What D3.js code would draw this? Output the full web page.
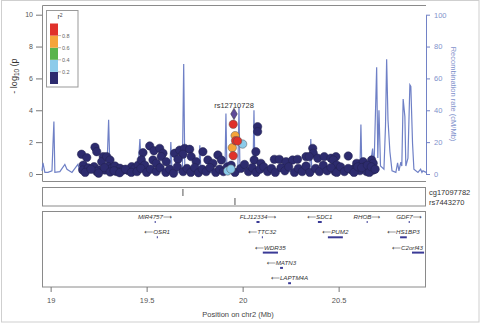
<!DOCTYPE html>
<html>
<head>
<meta charset="utf-8">
<script src="https://cdn.jsdelivr.net/npm/d3@7"></script>
<style>
  body { margin: 0; background: #fff; }
  text { font-family: "Liberation Sans", Arial, sans-serif; }
</style>
</head>
<body>
<div id="chart"></div>
<script>
// r2 legend
const r2Breaks = [0.2, 0.4, 0.6, 0.8];
const r2Colors = ["#2d2b6e", "#8ccbea", "#58b44c", "#f5a43a", "#e0312b"];
const leadColor = "#5e4a98";

// recombination rate (position Mb, cM/Mb)
const recomb = [
  [18.955, 2], [18.960, 7], [18.970, 1], [18.986, 1], [19.007, 2], [19.012, 18],
  [19.017, 33], [19.022, 1], [19.048, 1.5], [19.074, 6], [19.085, 3], [19.111, 1],
  [19.142, 6], [19.153, 1], [19.205, 1], [19.257, 2], [19.293, 3], [19.302, 34],
  [19.309, 2], [19.361, 1], [19.413, 2], [19.455, 3], [19.465, 22], [19.473, 3],
  [19.486, 14], [19.496, 2], [19.543, 1], [19.595, 3], [19.621, 2], [19.626, 20],
  [19.632, 2], [19.673, 1], [19.686, 2], [19.693, 69], [19.699, 2], [19.736, 1],
  [19.772, 2], [19.777, 18], [19.783, 2], [19.830, 1], [19.882, 2], [19.908, 3],
  [19.913, 38], [19.918, 3], [19.975, 3], [19.981, 42], [19.986, 3], [20.054, 3],
  [20.059, 40], [20.064, 3], [20.142, 1], [20.220, 2], [20.298, 1], [20.350, 3],
  [20.355, 22], [20.360, 3], [20.402, 1], [20.506, 2], [20.584, 1], [20.611, 3],
  [20.616, 31], [20.621, 3], [20.663, 4], [20.677, 16], [20.684, 3], [20.698, 67],
  [20.704, 10], [20.710, 40], [20.718, 5], [20.736, 3], [20.744, 30], [20.750, 72],
  [20.757, 34], [20.767, 14], [20.778, 2], [20.798, 1], [20.807, 7], [20.814, 2],
  [20.824, 7.5], [20.829, 5], [20.836, 47], [20.845, 36], [20.850, 5], [20.861, 10],
  [20.871, 56], [20.876, 55], [20.885, 19], [20.892, 3], [20.913, 1], [20.927, 3],
  [20.934, 1], [20.939, 2], [20.955, 1]
];

// SNPs: position (Mb), -log10 p, r2
const snps = [
  [19.161, 1.24, 0.1], [19.188, 1.03, 0.1], [19.231, 1.68, 0.1], [19.240, 1.40, 0.1],
  [19.170, 0.56, 0.1], [19.167, 0.25, 0.1], [19.196, 0.38, 0.1], [19.226, 0.46, 0.1],
  [19.248, 0.25, 0.1], [19.274, 1.09, 0.1], [19.266, 0.77, 0.1], [19.292, 1.09, 0.1],
  [19.309, 0.88, 0.1], [19.300, 0.46, 0.1], [19.318, 0.36, 0.1], [19.283, 0.25, 0.1],
  [19.335, 0.50, 0.1], [19.361, 0.36, 0.1], [19.378, 0.25, 0.1], [19.404, 0.21, 0.1],
  [19.422, 0.46, 0.1], [19.439, 0.36, 0.1], [19.456, 0.56, 0.1], [19.240, 0.15, 0.1],
  [19.344, 0.15, 0.1], [19.516, 1.76, 0.1], [19.481, 1.34, 0.1], [19.538, 1.46, 0.1],
  [19.568, 1.61, 0.1], [19.585, 1.30, 0.1], [19.576, 1.09, 0.1], [19.533, 0.88, 0.1],
  [19.472, 0.88, 0.1], [19.490, 0.56, 0.1], [19.550, 0.67, 0.1], [19.602, 0.77, 0.1],
  [19.646, 1.30, 0.1], [19.672, 1.50, 0.1], [19.698, 1.61, 0.1], [19.724, 1.55, 0.1],
  [19.689, 1.24, 0.1], [19.732, 1.09, 0.1], [19.663, 0.92, 0.1], [19.793, 1.40, 0.1],
  [19.819, 0.88, 0.1], [19.871, 1.19, 0.1], [19.758, 0.77, 0.1], [19.845, 0.67, 0.1],
  [19.889, 0.88, 0.1], [20.078, 2.97, 0.1], [20.078, 2.66, 0.1], [20.069, 1.40, 0.1],
  [20.060, 0.88, 0.1], [20.095, 0.67, 0.1], [20.165, 0.92, 0.1], [20.191, 0.92, 0.1],
  [20.226, 0.77, 0.1], [20.260, 0.88, 0.1], [20.286, 0.92, 0.1], [20.330, 1.09, 0.1],
  [20.365, 1.61, 0.1], [20.368, 1.30, 0.1], [20.347, 1.09, 0.1], [20.391, 0.99, 0.1],
  [20.425, 1.09, 0.1], [20.460, 0.99, 0.1], [20.486, 1.09, 0.1], [20.472, 0.88, 0.1],
  [20.490, 0.56, 0.1], [20.481, 0.15, 0.1], [20.550, 1.13, 0.1], [20.594, 0.67, 0.1],
  [20.585, 0.36, 0.1], [20.628, 0.77, 0.1], [20.637, 0.46, 0.1], [20.672, 0.88, 0.1],
  [20.680, 0.67, 0.1], [20.663, 0.25, 0.1], [20.611, 0.21, 0.1], [20.568, 0.25, 0.1],
  [20.646, 0.15, 0.1], [20.680, 0.25, 0.1],
  [19.18, 0.10, 0.1], [19.21, 0.30, 0.1], [19.25, 0.05, 0.1], [19.28, 0.40, 0.1],
  [19.31, 0.12, 0.1], [19.33, 0.20, 0.1], [19.36, 0.08, 0.1], [19.39, 0.30, 0.1],
  [19.42, 0.10, 0.1], [19.45, 0.15, 0.1], [19.47, 0.35, 0.1], [19.50, 0.10, 0.1],
  [19.52, 0.30, 0.1], [19.55, 0.15, 0.1], [19.57, 0.40, 0.1], [19.60, 0.10, 0.1],
  [19.62, 0.30, 0.1], [19.64, 0.05, 0.1], [19.66, 0.45, 0.1], [19.69, 0.15, 0.1],
  [19.71, 0.35, 0.1], [19.73, 0.10, 0.1], [19.75, 0.40, 0.1], [19.77, 0.08, 0.1],
  [19.79, 0.30, 0.1], [19.81, 0.15, 0.1], [19.83, 0.40, 0.1], [19.86, 0.10, 0.1],
  [19.88, 0.30, 0.1], [19.90, 0.15, 0.1], [19.92, 0.45, 0.1], [19.94, 0.55, 0.1],
  [19.96, 0.10, 0.1], [19.99, 0.35, 0.1], [20.01, 0.60, 0.1], [20.03, 0.15, 0.1],
  [20.05, 0.40, 0.1], [20.07, 0.10, 0.1], [20.09, 0.30, 0.1], [20.11, 0.45, 0.1],
  [20.13, 0.15, 0.1], [20.15, 0.35, 0.1], [20.17, 0.10, 0.1], [20.20, 0.40, 0.1],
  [20.22, 0.20, 0.1], [20.24, 0.45, 0.1], [20.27, 0.10, 0.1], [20.29, 0.35, 0.1],
  [20.31, 0.15, 0.1], [20.33, 0.50, 0.1], [20.35, 0.10, 0.1], [20.38, 0.35, 0.1],
  [20.40, 0.15, 0.1], [20.42, 0.55, 0.1], [20.44, 0.20, 0.1], [20.46, 0.40, 0.1],
  [20.49, 0.10, 0.1], [20.51, 0.45, 0.1], [20.53, 0.15, 0.1], [20.55, 0.35, 0.1],
  [20.58, 0.10, 0.1], [20.60, 0.45, 0.1], [20.62, 0.40, 0.1], [20.65, 0.55, 0.1],
  [20.66, 0.10, 0.1], [20.67, 0.45, 0.1], [20.69, 0.30, 0.1],
  [19.951, 3.12, 0.9], [19.961, 2.41, 0.7], [19.963, 2.09, 0.9], [19.974, 2.07, 0.9],
  [20.000, 1.88, 0.3], [19.946, 1.65, 0.7], [19.951, 1.15, 0.9], [19.922, 0.19, 0.3],
  [19.939, 0.31, 0.3]
];
const lead = { name: "rs12710728", pos: 19.955, logp: 3.77 };

// extra annotation tracks
const trackNames = ["cg17097782", "rs7443270"];
const trackPos = [19.689, 19.960];

// genes
const geneNames = ["MIR4757", "FLJ12334", "SDC1", "RHOB", "GDF7", "OSR1", "TTC32", "PUM2",
  "HS1BP3", "WDR35", "C2orf43", "MATN3", "LAPTM4A"];
const geneStart = [19.542, 20.072, 20.392, 20.646, 20.865, 19.553, 20.100, 20.444,
  20.820, 20.105, 20.882, 20.195, 20.237];
const geneEnd = [19.544, 20.088, 20.412, 20.648, 20.867, 19.557, 20.104, 20.522,
  20.855, 20.184, 20.945, 20.210, 20.252];
const geneStrand = ["+", "+", "-", "+", "+", "-", "-", "-", "-", "-", "-", "-", "-"];
const geneRow = [0, 0, 0, 0, 0, 1, 1, 1, 1, 2, 2, 3, 4];

const xTicks = [19, 19.5, 20, 20.5];
const pTicks = [0, 2, 4, 6, 8, 10];
const rTicks = [0, 20, 40, 60, 80, 100];

const W = 483, H = 323;
const L = 42, R = 426;

const svg = d3.select("#chart").append("svg")
  .attr("width", W).attr("height", H);

svg.append("rect")
  .attr("x", 1.5).attr("y", 0.5).attr("width", 477.5).attr("height", 321.5)
  .attr("fill", "none").attr("stroke", "#cfcfcf");

const x = d3.scaleLinear().domain([18.955, 20.955]).range([L, R]);
const yP = d3.scaleLinear().domain([0, 10]).range([174, 14.7]);
const yR = d3.scaleLinear().domain([0, 100]).range([174, 14.7]);
const color = d3.scaleThreshold().domain(r2Breaks).range(r2Colors);

// main panel frame
svg.append("path")
  .attr("d", `M${R},5.5H${L + 0.5}V181.5H${R}`)
  .attr("fill", "none").attr("stroke", "#8a8a8a");

// left axis
const gL = svg.append("g").attr("transform", `translate(${L},0)`)
  .call(d3.axisLeft(yP).tickValues(pTicks).tickSize(6).tickPadding(3));
gL.select(".domain").remove();
gL.selectAll("line").attr("stroke", "#777");
gL.selectAll("text").attr("fill", "#555").style("font-size", "7px");

svg.append("text")
  .attr("transform", "translate(17,76) rotate(-90)")
  .attr("text-anchor", "middle")
  .style("font-size", "9px").attr("fill", "#333")
  .html("- log<tspan font-size='6.5px' dy='1.5'>10</tspan><tspan dy='-1.5'> (p</tspan>");

// right axis
const gR = svg.append("g").attr("transform", `translate(${R},0)`)
  .call(d3.axisRight(yR).tickValues(rTicks).tickSize(4).tickSizeOuter(0).tickPadding(4));
gR.select(".domain").attr("stroke", "#7282c6");
gR.selectAll("line").attr("stroke", "#7282c6");
gR.selectAll("text").attr("fill", "#8292cc").style("font-size", "7.5px");

svg.append("text")
  .attr("transform", "translate(451,94) rotate(90)")
  .attr("text-anchor", "middle")
  .style("font-size", "7.5px").attr("fill", "#8292cc")
  .text("Recombination rate (cM/Mb)");

// recombination line
svg.append("path")
  .datum(recomb)
  .attr("fill", "none")
  .attr("stroke", "#6f80c6")
  .attr("stroke-width", 1.2)
  .attr("d", d3.line().x(d => x(d[0])).y(d => yR(d[1])));

// SNPs
const sorted = snps.slice().sort((a, b) => a[2] - b[2]);
svg.append("g").selectAll("circle")
  .data(sorted).enter().append("circle")
  .attr("cx", d => x(d[0]))
  .attr("cy", d => yP(d[1]))
  .attr("r", 4.2)
  .attr("fill", d => color(d[2]))
  .attr("stroke", d => d[2] < 0.2 ? "#23224f" : "#555")
  .attr("stroke-width", 0.5);

svg.append("path")
  .attr("d", d3.symbol().type(d3.symbolDiamond).size(38)())
  .attr("transform", `translate(${x(lead.pos)},${yP(lead.logp)})`)
  .attr("fill", leadColor).attr("stroke", "#333").attr("stroke-width", 0.5);

svg.append("text")
  .attr("x", x(lead.pos)).attr("y", 108)
  .attr("text-anchor", "middle")
  .style("font-size", "7.5px").attr("fill", "#333")
  .text(lead.name);

// legend
const lg = svg.append("g");
lg.append("rect").attr("x", 46.5).attr("y", 10.5).attr("width", 31.5).attr("height", 76.5)
  .attr("fill", "#fff").attr("stroke", "#999");
lg.append("text").attr("x", 60).attr("y", 19).attr("text-anchor", "middle")
  .style("font-size", "7px").attr("fill", "#444")
  .html("r<tspan dy='-2.5' font-size='5px'>2</tspan>");
const ly = d3.scaleLinear().domain([0, 1]).range([84, 23.5]);
const bands = [0, 0.2, 0.4, 0.6, 0.8];
lg.selectAll(".band").data(bands).enter().append("rect")
  .attr("x", 50).attr("width", 8)
  .attr("y", d => ly(d + 0.2))
  .attr("height", d => ly(d) - ly(d + 0.2))
  .attr("fill", d => color(d + 0.1));
lg.selectAll(".tk").data(r2Breaks).enter().append("line")
  .attr("x1", 58).attr("x2", 61).attr("y1", d => ly(d)).attr("y2", d => ly(d))
  .attr("stroke", "#888").attr("stroke-width", 0.6);
lg.selectAll(".lb").data(r2Breaks).enter().append("text")
  .attr("x", 62).attr("y", d => ly(d) + 2)
  .style("font-size", "5.5px").attr("fill", "#666")
  .text(d => d.toFixed(1));

// annotation track panel
svg.append("rect").attr("x", L + 0.5).attr("y", 187.5).attr("width", R - L - 1).attr("height", 18.5)
  .attr("fill", "none").attr("stroke", "#8a8a8a");
trackNames.forEach((n, i) => {
  svg.append("line")
    .attr("x1", x(trackPos[i])).attr("x2", x(trackPos[i]))
    .attr("y1", 189 + i * 9).attr("y2", 196 + i * 9)
    .attr("stroke", "#555").attr("stroke-width", 1);
  svg.append("text")
    .attr("x", 429).attr("y", 194.5 + i * 10)
    .style("font-size", "7.5px").attr("fill", "#333")
    .text(n);
});

// gene panel
svg.append("rect").attr("x", L + 0.5).attr("y", 211.5).attr("width", R - L - 1).attr("height", 75.5)
  .attr("fill", "none").attr("stroke", "#8a8a8a");
geneNames.forEach((n, i) => {
  const ty = 219 + geneRow[i] * 15.3;
  const x0 = x(geneStart[i]), x1 = x(geneEnd[i]);
  svg.append("line")
    .attr("x1", x0).attr("x2", Math.max(x1, x0 + 1)).attr("y1", ty + 3).attr("y2", ty + 3)
    .attr("stroke", "#3a3a96").attr("stroke-width", 2);
  const t = svg.append("text")
    .attr("x", (x0 + x1) / 2).attr("y", ty)
    .attr("text-anchor", "middle")
    .style("font-size", "6.2px").style("font-style", "italic").attr("fill", "#333");
  if (geneStrand[i] === "-") {
    t.append("tspan").style("font-family", "DejaVu Sans").style("font-style", "normal").text("\u27f5");
    t.append("tspan").text(n);
  } else {
    t.append("tspan").text(n);
    t.append("tspan").style("font-family", "DejaVu Sans").style("font-style", "normal").text("\u27f6");
  }
  const w = t.node().getComputedTextLength();
  const cx = Math.min((x0 + x1) / 2, R - 3 - w / 2);
  t.attr("x", cx);
});

// bottom axis
const gB = svg.append("g").attr("transform", "translate(0,287)")
  .call(d3.axisBottom(x).tickValues(xTicks).tickSize(5).tickPadding(6).tickFormat(d3.format("")));
gB.select(".domain").remove();
gB.selectAll("line").attr("stroke", "#777");
gB.selectAll("text").attr("fill", "#555").style("font-size", "7.5px");

svg.append("text")
  .attr("x", 238).attr("y", 317)
  .attr("text-anchor", "middle")
  .style("font-size", "7.5px").attr("fill", "#444")
  .text("Position on chr2 (Mb)");
</script>
</body>
</html>
